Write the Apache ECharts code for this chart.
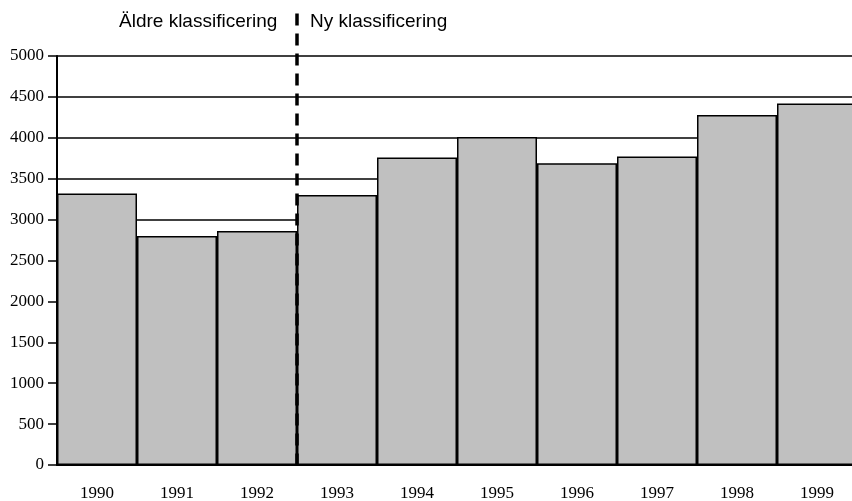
<!DOCTYPE html>
<html>
<head>
<meta charset="utf-8">
<script src="https://cdn.jsdelivr.net/npm/echarts@6/dist/echarts.min.js"></script>
<style>
  html, body { margin: 0; padding: 0; background: #fff; }
  #chart { width: 852px; height: 501px; }
</style>
</head>
<body>
<div id="chart"></div>
<script>
const years = ['1990', '1991', '1992', '1993', '1994', '1995', '1996', '1997', '1998', '1999'];
const values = [3320, 2800, 2860, 3300, 3760, 4010, 3690, 3770, 4280, 4420];
// boundary between old and new classification (after 1992)
const splitAt = 3;
const headerOld = 'Äldre klassificering';
const headerNew = 'Ny klassificering';

const chart = echarts.init(document.getElementById('chart'));

chart.setOption({
  animation: false,
  grid: { left: 57, top: 56, width: 800, height: 409, outerBoundsMode: 'none' },
  xAxis: [
    {
      type: 'category',
      data: years,
      axisLine: { lineStyle: { color: '#000', width: 2 } },
      axisTick: { length: 7, lineStyle: { color: '#000', width: 2 } },
      axisLabel: { color: '#000', fontFamily: 'Liberation Serif', fontSize: 17, margin: 20 }
    },
    { type: 'value', min: 0, max: years.length, show: false }
  ],
  yAxis: {
    type: 'value',
    min: 0,
    max: 5000,
    interval: 500,
    axisLine: { show: true, lineStyle: { color: '#000', width: 2 } },
    axisTick: { show: true, length: 9, lineStyle: { color: '#000', width: 1.5 } },
    axisLabel: {
      color: '#000', fontFamily: 'Liberation Serif', fontSize: 17, margin: 13,
      formatter: v => String(v)
    },
    splitLine: { lineStyle: { color: '#000', width: 1.5 } }
  },
  graphic: [
    { type: 'text', x: 119, y: 12, style: { text: headerOld, fontFamily: 'Liberation Sans', fontSize: 19, fill: '#000' } },
    { type: 'text', x: 310, y: 12, style: { text: headerNew, fontFamily: 'Liberation Sans', fontSize: 19, fill: '#000' } }
  ],
  series: [
    {
      type: 'bar',
      data: values,
      barCategoryGap: 0,
      itemStyle: { color: '#c0c0c0', borderColor: '#000', borderWidth: 1.5 }
    },
    {
      type: 'line',
      xAxisIndex: 1,
      data: [[splitAt, 5520], [splitAt, 0]],
      clip: false,
      symbol: 'none',
      lineStyle: { color: '#000', width: 3.5, type: [12, 8] },
      z: 5
    }
  ]
});
</script>
</body>
</html>
